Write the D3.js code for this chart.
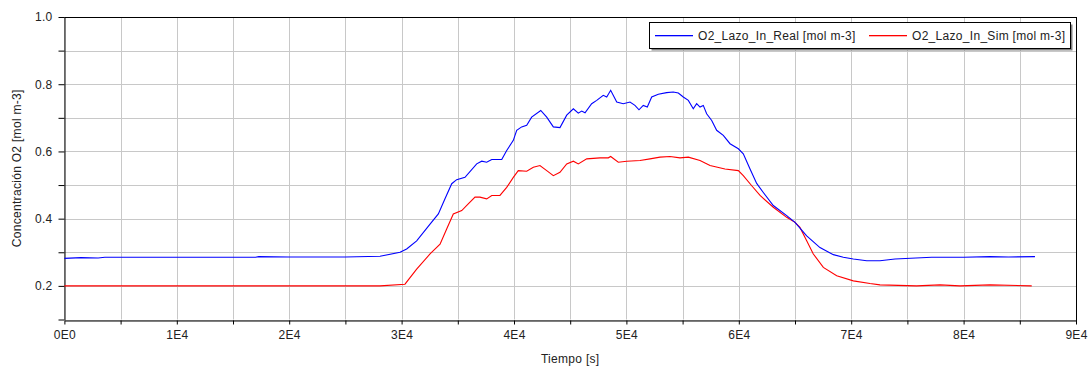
<!DOCTYPE html>
<html><head><meta charset="utf-8">
<script src="https://cdn.jsdelivr.net/npm/d3@7"></script>
<style>body{margin:0;background:#fff}svg{display:block}text{font-family:"Liberation Sans",Arial,sans-serif;letter-spacing:0.3px}</style>
</head><body><svg id="c" width="1092" height="367"></svg>
<script>
// time in seconds (x1000), values in mol m-3
const realT = [0,1.5,3,3.6,5,10,17,17.3,20,25,28.08,29.86,30.45,31.34,32.53,33.27,33.86,34.46,34.9,35.64,36.68,37.13,37.57,38.02,38.91,39.35,39.94,40.24,40.68,41.13,41.57,42.38,42.91,43.5,44.09,44.69,45.28,45.72,46.02,46.32,46.91,47.36,47.94,48.25,48.6,49.14,49.72,50.32,50.76,51.12,51.5,51.86,52.25,52.84,53.58,54.17,54.62,55.06,55.51,55.95,56.25,56.55,56.84,57.14,57.59,58.03,58.62,59.22,59.96,60.4,61.0,61.59,62.18,63.07,64.26,65.0,66.04,67.22,68.41,69.3,70.19,71.38,72.56,73.9,77.16,80,82.35,84,86.35];
const realV = [0.282,0.284,0.283,0.285,0.285,0.285,0.285,0.287,0.286,0.286,0.288,0.30,0.31,0.334,0.384,0.414,0.459,0.504,0.516,0.523,0.563,0.571,0.568,0.576,0.576,0.603,0.633,0.663,0.673,0.678,0.702,0.722,0.702,0.673,0.671,0.708,0.727,0.714,0.72,0.715,0.742,0.752,0.767,0.762,0.782,0.747,0.742,0.747,0.737,0.724,0.737,0.732,0.762,0.770,0.775,0.777,0.774,0.762,0.752,0.727,0.742,0.732,0.737,0.712,0.692,0.663,0.648,0.623,0.608,0.593,0.548,0.505,0.478,0.439,0.409,0.389,0.349,0.314,0.293,0.285,0.28,0.275,0.275,0.28,0.285,0.285,0.287,0.286,0.287];
const simT = [0,10,20,28.08,30.3,31.34,32.53,33.42,34.01,34.6,35.35,35.93,36.53,36.97,37.57,38.02,38.75,39.35,39.94,40.38,41.13,41.72,42.31,42.91,43.5,44.09,44.69,45.28,45.72,46.47,47.65,48.39,48.6,49.28,50.03,51.21,52.1,52.99,53.88,54.77,55.51,56.55,57.44,58.77,59.96,60.4,61.15,61.89,63.07,64.26,65.0,65.44,66.04,66.63,67.52,68.71,70.19,71.67,72.56,75.82,77.9,79.68,82.35,86.06];
const simV = [0.2,0.2,0.2,0.2,0.205,0.25,0.295,0.324,0.369,0.414,0.424,0.444,0.464,0.464,0.459,0.469,0.469,0.493,0.523,0.543,0.541,0.553,0.558,0.543,0.528,0.538,0.563,0.571,0.563,0.578,0.581,0.581,0.585,0.568,0.571,0.573,0.578,0.583,0.585,0.581,0.583,0.573,0.558,0.548,0.543,0.528,0.498,0.469,0.434,0.404,0.389,0.374,0.334,0.295,0.255,0.230,0.215,0.207,0.203,0.2,0.203,0.2,0.203,0.2];
const xTickLabels = ["0E0","1E4","2E4","3E4","4E4","5E4","6E4","7E4","8E4","9E4"];
const yTickLabels = ["0.2","0.4","0.6","0.8","1.0"];
const seriesNames = ["O2_Lazo_In_Real [mol m-3]","O2_Lazo_In_Sim [mol m-3]"];
const seriesColors = ["#0000ff","#ff0000"];

const svg = d3.select("#c");
const L=64.4, R=1076, T=17, B=319.5;
const x = d3.scaleLinear().domain([0,90000]).range([L,R]);
const y = d3.scaleLinear().domain([0.1,1.0]).range([B,T]);
const FS = "12px";

const g = svg.append("g");
const xg = d3.range(0,90001,5000), yg = d3.range(1,11).map(d=>d/10);
g.selectAll(".gx").data(xg).join("line").attr("x1",d=>Math.round(x(d))+0.5).attr("x2",d=>Math.round(x(d))+0.5).attr("y1",T).attr("y2",B).attr("stroke","#c8c8c8");
g.selectAll(".gy").data(yg).join("line").attr("y1",d=>Math.round(y(d))+0.5).attr("y2",d=>Math.round(y(d))+0.5).attr("x1",L).attr("x2",R).attr("stroke","#c8c8c8");

const xAxis = d3.axisBottom(x).tickValues(xg).tickSize(4).tickSizeOuter(0)
  .tickFormat(d=> d%10000===0 ? xTickLabels[d/10000] : "");
const ax = svg.append("g").attr("transform",`translate(0,${Math.round(B)+0.5})`).call(xAxis);
const yAxis = d3.axisLeft(y).tickValues(yg).tickSize(6).tickSizeOuter(0)
  .tickFormat(d=> { const i = yTickLabels.indexOf(d.toFixed(1)); return i>=0 ? yTickLabels[i] : ""; });
const ay = svg.append("g").attr("transform",`translate(${Math.round(L)+0.5},0)`).call(yAxis);
[ax,ay].forEach(a=>{a.selectAll("path").attr("stroke","#000");a.selectAll("line").attr("stroke","#000");
  a.selectAll("text").attr("fill","#222").style("font-size",FS).style("font-family","Liberation Sans, Arial, sans-serif");});
ax.selectAll("text").attr("dy","1.0em").attr("y",6);
ay.selectAll("text").attr("x",-12);
svg.append("line").attr("x1",L).attr("x2",R).attr("y1",T+0.5).attr("y2",T+0.5).attr("stroke","#000");
svg.append("line").attr("x1",Math.round(R)+0.5).attr("x2",Math.round(R)+0.5).attr("y1",T).attr("y2",B+4).attr("stroke","#000");

const line = d3.line().x(d=>x(d[0]*1000)).y(d=>y(d[1]));
const real = realT.map((t,i)=>[t,realV[i]]);
const sim = simT.map((t,i)=>[t,simV[i]]);
svg.append("path").datum(sim).attr("d",line).attr("fill","none").attr("stroke",seriesColors[1]).attr("stroke-width",1.1);
svg.append("path").datum(real).attr("d",line).attr("fill","none").attr("stroke",seriesColors[0]).attr("stroke-width",1.1);

svg.append("text").attr("x",(L+R)/2).attr("y",363).attr("text-anchor","middle").attr("fill","#222").style("font-size",FS).text("Tiempo [s]");
svg.append("text").attr("transform",`translate(21,${(T+B)/2}) rotate(-90)`).attr("text-anchor","middle").attr("fill","#222").style("font-size",FS).text("Concentración O2 [mol m-3]");

const lg = svg.append("g");
lg.append("rect").attr("x",651.5).attr("y",24.5).attr("width",421).attr("height",26).attr("fill","#808080");
lg.append("rect").attr("x",649.5).attr("y",22.5).attr("width",421).attr("height",26).attr("fill","#fff").attr("stroke","#000");
const lx = [655,869];
seriesNames.forEach((n,i)=>{
  lg.append("rect").attr("x",lx[i]).attr("y",35).attr("width",38).attr("height",1.3).attr("fill",seriesColors[i]);
  lg.append("text").attr("x",lx[i]+43).attr("y",40).attr("fill","#222").style("font-size",FS).text(n);
});
</script></body></html>
